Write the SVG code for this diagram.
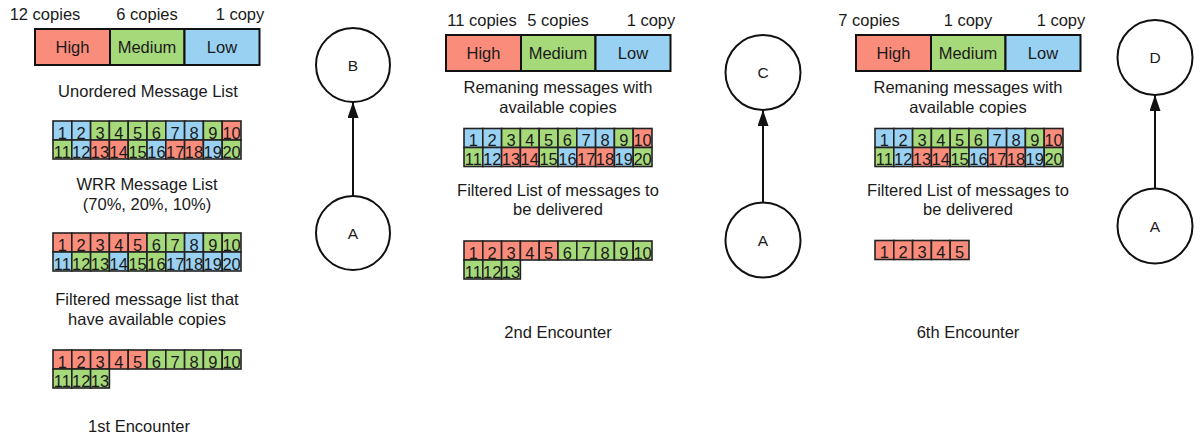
<svg xmlns="http://www.w3.org/2000/svg" width="1203" height="439" viewBox="0 0 1203 439">
  <style>
    text { font-family: "Liberation Sans", Arial, sans-serif; fill: #1a1a1a; }
    .lbl { font-size: 16.5px; text-anchor: middle; }
    .nl { font-size: 15.5px; text-anchor: middle; }
    .num { font-size: 16.5px; text-anchor: middle; }
    .r { fill: #FA8C7C; }
    .g { fill: #A6D97A; }
    .b { fill: #99D1F2; }
    .cell { stroke: #222; stroke-width: 1.6; }
    .bar { stroke: #111; stroke-width: 2; }
    .node { fill: #fff; stroke: #111; stroke-width: 2; }
    .edge { stroke: #111; stroke-width: 2; fill: none; }
  </style>
  <defs>
    <marker id="arrow" markerUnits="userSpaceOnUse" markerWidth="16" markerHeight="11" refX="16" refY="5.5" orient="auto">
      <path d="M0,0 L16,5.5 L0,11 z" fill="#111"/>
    </marker>

    <!-- priority bar (High / Medium / Low), 225 x 36 -->
    <g id="prio">
      <rect class="r bar" x="0" y="0" width="75" height="36"/>
      <rect class="g bar" x="75" y="0" width="74.5" height="36"/>
      <rect class="b bar" x="149.5" y="0" width="75" height="36"/>
      <text class="lbl" x="37.5" y="24">High</text>
      <text class="lbl" x="112" y="24">Medium</text>
      <text class="lbl" x="187" y="24">Low</text>
    </g>

    <!-- unordered list of 20 messages -->
    <g id="unordered">
      <g class="cell">
        <rect class="b" x="0" y="0" width="18.8" height="19"/>
        <rect class="b" x="18.8" y="0" width="18.8" height="19"/>
        <rect class="g" x="37.6" y="0" width="18.8" height="19"/>
        <rect class="g" x="56.4" y="0" width="18.8" height="19"/>
        <rect class="g" x="75.2" y="0" width="18.8" height="19"/>
        <rect class="g" x="94" y="0" width="18.8" height="19"/>
        <rect class="b" x="112.8" y="0" width="18.8" height="19"/>
        <rect class="b" x="131.6" y="0" width="18.8" height="19"/>
        <rect class="g" x="150.4" y="0" width="18.8" height="19"/>
        <rect class="r" x="169.2" y="0" width="18.8" height="19"/>
        <rect class="g" x="0" y="19" width="18.8" height="19"/>
        <rect class="b" x="18.8" y="19" width="18.8" height="19"/>
        <rect class="r" x="37.6" y="19" width="18.8" height="19"/>
        <rect class="r" x="56.4" y="19" width="18.8" height="19"/>
        <rect class="g" x="75.2" y="19" width="18.8" height="19"/>
        <rect class="b" x="94" y="19" width="18.8" height="19"/>
        <rect class="r" x="112.8" y="19" width="18.8" height="19"/>
        <rect class="r" x="131.6" y="19" width="18.8" height="19"/>
        <rect class="b" x="150.4" y="19" width="18.8" height="19"/>
        <rect class="g" x="169.2" y="19" width="18.8" height="19"/>
      </g>
      <g class="num">
        <text x="9.4" y="17.5">1</text><text x="28.2" y="17.5">2</text><text x="47" y="17.5">3</text><text x="65.8" y="17.5">4</text><text x="84.6" y="17.5">5</text>
        <text x="103.4" y="17.5">6</text><text x="122.2" y="17.5">7</text><text x="141" y="17.5">8</text><text x="159.8" y="17.5">9</text><text x="178.6" y="17.5">10</text>
        <text x="9.4" y="36.5">11</text><text x="28.2" y="36.5">12</text><text x="47" y="36.5">13</text><text x="65.8" y="36.5">14</text><text x="84.6" y="36.5">15</text>
        <text x="103.4" y="36.5">16</text><text x="122.2" y="36.5">17</text><text x="141" y="36.5">18</text><text x="159.8" y="36.5">19</text><text x="178.6" y="36.5">20</text>
      </g>
    </g>

    <!-- first five messages (high priority) -->
    <g id="high5">
      <g class="cell">
        <rect class="r" x="0" y="0" width="18.8" height="19"/>
        <rect class="r" x="18.8" y="0" width="18.8" height="19"/>
        <rect class="r" x="37.6" y="0" width="18.8" height="19"/>
        <rect class="r" x="56.4" y="0" width="18.8" height="19"/>
        <rect class="r" x="75.2" y="0" width="18.8" height="19"/>
      </g>
      <g class="num">
        <text x="9.4" y="17.5">1</text><text x="28.2" y="17.5">2</text><text x="47" y="17.5">3</text><text x="65.8" y="17.5">4</text><text x="84.6" y="17.5">5</text>
      </g>
    </g>

    <!-- filtered list of 13 messages -->
    <g id="filtered13">
      <use href="#high5"/>
      <g class="cell">
        <rect class="g" x="94" y="0" width="18.8" height="19"/>
        <rect class="g" x="112.8" y="0" width="18.8" height="19"/>
        <rect class="g" x="131.6" y="0" width="18.8" height="19"/>
        <rect class="g" x="150.4" y="0" width="18.8" height="19"/>
        <rect class="g" x="169.2" y="0" width="18.8" height="19"/>
        <rect class="g" x="0" y="19" width="18.8" height="19"/>
        <rect class="g" x="18.8" y="19" width="18.8" height="19"/>
        <rect class="g" x="37.6" y="19" width="18.8" height="19"/>
      </g>
      <g class="num">
        <text x="103.4" y="17.5">6</text><text x="122.2" y="17.5">7</text><text x="141" y="17.5">8</text><text x="159.8" y="17.5">9</text><text x="178.6" y="17.5">10</text>
        <text x="9.4" y="36.5">11</text><text x="28.2" y="36.5">12</text><text x="47" y="36.5">13</text>
      </g>
    </g>
  </defs>

  <!-- ===== 1st encounter ===== -->
  <g id="enc1">
    <text class="lbl" x="45" y="20">12 copies</text>
    <text class="lbl" x="147" y="20">6 copies</text>
    <text class="lbl" x="240" y="20">1 copy</text>
    <use href="#prio" x="35" y="29"/>
    <text class="lbl" x="148" y="97">Unordered Message List</text>
    <use href="#unordered" x="53" y="121"/>
    <text class="lbl" x="147" y="190">WRR Message List</text>
    <text class="lbl" x="147" y="210">(70%, 20%, 10%)</text>
    <g id="wrr-list" transform="translate(53,233)">
      <g class="cell">
        <rect class="r" x="0" y="0" width="18.8" height="19"/>
        <rect class="r" x="18.8" y="0" width="18.8" height="19"/>
        <rect class="r" x="37.6" y="0" width="18.8" height="19"/>
        <rect class="r" x="56.4" y="0" width="18.8" height="19"/>
        <rect class="r" x="75.2" y="0" width="18.8" height="19"/>
        <rect class="g" x="94" y="0" width="18.8" height="19"/>
        <rect class="g" x="112.8" y="0" width="18.8" height="19"/>
        <rect class="b" x="131.6" y="0" width="18.8" height="19"/>
        <rect class="g" x="150.4" y="0" width="18.8" height="19"/>
        <rect class="g" x="169.2" y="0" width="18.8" height="19"/>
        <rect class="b" x="0" y="19" width="18.8" height="19"/>
        <rect class="g" x="18.8" y="19" width="18.8" height="19"/>
        <rect class="g" x="37.6" y="19" width="18.8" height="19"/>
        <rect class="b" x="56.4" y="19" width="18.8" height="19"/>
        <rect class="g" x="75.2" y="19" width="18.8" height="19"/>
        <rect class="g" x="94" y="19" width="18.8" height="19"/>
        <rect class="b" x="112.8" y="19" width="18.8" height="19"/>
        <rect class="b" x="131.6" y="19" width="18.8" height="19"/>
        <rect class="b" x="150.4" y="19" width="18.8" height="19"/>
        <rect class="b" x="169.2" y="19" width="18.8" height="19"/>
      </g>
      <g class="num">
        <text x="9.4" y="17.5">1</text><text x="28.2" y="17.5">2</text><text x="47" y="17.5">3</text><text x="65.8" y="17.5">4</text><text x="84.6" y="17.5">5</text>
        <text x="103.4" y="17.5">6</text><text x="122.2" y="17.5">7</text><text x="141" y="17.5">8</text><text x="159.8" y="17.5">9</text><text x="178.6" y="17.5">10</text>
        <text x="9.4" y="36.5">11</text><text x="28.2" y="36.5">12</text><text x="47" y="36.5">13</text><text x="65.8" y="36.5">14</text><text x="84.6" y="36.5">15</text>
        <text x="103.4" y="36.5">16</text><text x="122.2" y="36.5">17</text><text x="141" y="36.5">18</text><text x="159.8" y="36.5">19</text><text x="178.6" y="36.5">20</text>
      </g>
    </g>
    <text class="lbl" x="147" y="305">Filtered message list that</text>
    <text class="lbl" x="147" y="325">have available copies</text>
    <use href="#filtered13" x="53" y="350"/>
    <text class="lbl" x="139" y="432">1st Encounter</text>
  </g>

  <!-- ===== 2nd encounter ===== -->
  <g id="enc2">
    <text class="lbl" x="482" y="26">11 copies</text>
    <text class="lbl" x="558" y="26">5 copies</text>
    <text class="lbl" x="651" y="26">1 copy</text>
    <use href="#prio" x="446" y="35"/>
    <text class="lbl" x="558" y="93">Remaning messages with</text>
    <text class="lbl" x="558" y="113">available copies</text>
    <use href="#unordered" x="464" y="128.5"/>
    <text class="lbl" x="558" y="196">Filtered List of messages to</text>
    <text class="lbl" x="558" y="215">be delivered</text>
    <use href="#filtered13" x="464" y="241"/>
    <text class="lbl" x="558" y="338">2nd Encounter</text>
  </g>

  <!-- ===== 6th encounter ===== -->
  <g id="enc6">
    <text class="lbl" x="869" y="26">7 copies</text>
    <text class="lbl" x="968" y="26">1 copy</text>
    <text class="lbl" x="1061" y="26">1 copy</text>
    <use href="#prio" x="856" y="35"/>
    <text class="lbl" x="968" y="93">Remaning messages with</text>
    <text class="lbl" x="968" y="113">available copies</text>
    <use href="#unordered" x="875" y="128.5"/>
    <text class="lbl" x="968" y="196">Filtered List of messages to</text>
    <text class="lbl" x="968" y="215">be delivered</text>
    <use href="#high5" x="875" y="240.5"/>
    <text class="lbl" x="968" y="338">6th Encounter</text>
  </g>

  <!-- ===== encounter nodes ===== -->
  <g id="node-B"><circle class="node" cx="353" cy="65" r="37"/><text class="nl" x="353" y="70.5">B</text></g>
  <g id="node-A1"><circle class="node" cx="353" cy="233" r="37"/><text class="nl" x="353" y="238.5">A</text></g>
  <g id="node-C"><circle class="node" cx="763" cy="72.5" r="37.5"/><text class="nl" x="763" y="78">C</text></g>
  <g id="node-A2"><circle class="node" cx="763" cy="240" r="37.5"/><text class="nl" x="763" y="245.5">A</text></g>
  <g id="node-D"><circle class="node" cx="1155" cy="57.5" r="37.5"/><text class="nl" x="1155" y="63">D</text></g>
  <g id="node-A3"><circle class="node" cx="1155" cy="226" r="37.5"/><text class="nl" x="1155" y="231.5">A</text></g>

  <g id="connectors">
    <line class="edge" x1="353" y1="196" x2="353" y2="102" marker-end="url(#arrow)"/>
    <line class="edge" x1="763" y1="202.5" x2="763" y2="110" marker-end="url(#arrow)"/>
    <line class="edge" x1="1155" y1="188.5" x2="1155" y2="95" marker-end="url(#arrow)"/>
  </g>
</svg>
